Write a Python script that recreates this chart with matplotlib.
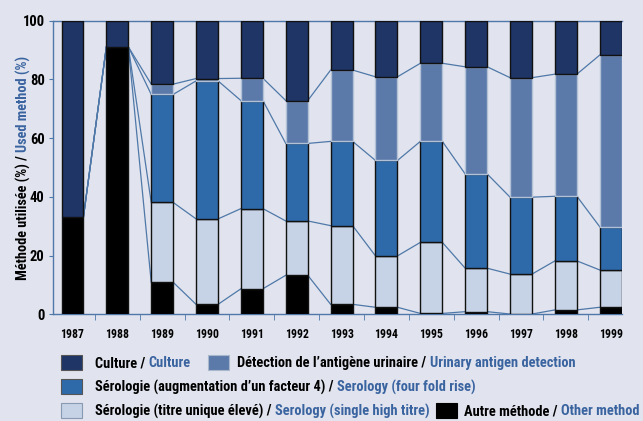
import numpy as np
import matplotlib
matplotlib.use('Agg')
import matplotlib.pyplot as plt
from matplotlib.patches import Rectangle

years = ['1987', '1988', '1989', '1990', '1991', '1992', '1993',
         '1994', '1995', '1996', '1997', '1998', '1999']
# stacked from bottom to top
other = [33.3, 91.1, 10.9, 3.4, 8.7, 13.3, 3.4, 2.4, 0.3, 0.9, 0.1, 1.5, 2.4]
single_titre = [0, 0, 27.2, 29.1, 27.3, 18.5, 26.8, 17.5, 24.2, 14.8, 13.6, 16.7, 12.7]
four_fold = [0, 0, 36.8, 47.0, 36.8, 26.4, 28.7, 32.5, 34.4, 32.1, 26.2, 22.0, 14.7]
antigen = [0, 0, 3.5, 0.8, 7.6, 14.6, 24.3, 28.5, 26.6, 36.5, 40.7, 41.6, 58.5]
culture = [66.7, 8.9, 21.6, 19.7, 19.6, 27.2, 16.8, 19.1, 14.5, 15.7, 19.4, 18.2, 11.7]

series = [other, single_titre, four_fold, antigen, culture]
colors = ['#000000', '#c6d2e5', '#2e69a9', '#5b7aaa', '#1f3566']
edges = ['#111111', '#111111', '#111111', '#b3c1d6', '#111111']

bg = '#e1e4ee'
steel = '#4f78a8'
blue_txt = '#3a64a0'

plt.rcParams['font.family'] = ['Roboto Condensed', 'DejaVu Sans']
plt.rcParams['font.weight'] = 600

fig = plt.figure(figsize=(6.43, 4.21), dpi=100, facecolor=bg)
ax = fig.add_axes([0.0824, 0.2534, 0.8849, 0.6974])
ax.set_facecolor(bg)

x = np.arange(len(years))
w = 0.49
bottom = np.zeros(len(years))
tops = []
for vals, c, ec in zip(series, colors, edges):
    vals = np.array(vals, dtype=float)
    ecs = [ec if v > 0 else 'none' for v in vals]
    ax.bar(x, vals, w, bottom=bottom, color=c, edgecolor=ecs, linewidth=1.0, zorder=3)
    bottom = bottom + vals
    tops.append(bottom.copy())

# connecting lines between consecutive bars
for t in tops[:-1]:
    for i in range(len(years) - 1):
        ax.plot([x[i] + w / 2, x[i + 1] - w / 2], [t[i], t[i + 1]],
                color=steel, lw=0.9, zorder=2)

ax.set_xlim(-0.435, 12.25)
ax.set_ylim(0, 100)
ax.set_yticks([0, 20, 40, 60, 80, 100])
ax.set_xticks(x)
ax.set_xticklabels(years, fontsize=8.5)
ax.set_xticks(x[:-1] + 0.5, minor=True)
ax.tick_params(axis='x', which='major', length=0, pad=10)
ax.tick_params(axis='x', which='minor', length=4, color=steel, direction='out')
ax.tick_params(axis='y', length=3, color=steel, labelsize=10.5, pad=3)
for s in ['left', 'bottom', 'top']:
    ax.spines[s].set_color(steel)
    ax.spines[s].set_linewidth(1.0)
ax.spines['right'].set_visible(False)

renderer = fig.canvas.get_renderer()
W, H = fig.get_size_inches() * fig.dpi


def text_width(s, size):
    t = fig.text(0, 0, s, fontsize=size)
    wd = t.get_window_extent(renderer=renderer).width
    t.remove()
    return wd


# fit legend text size to the reference width of the longest first-column row
leg_size = 10 * 334 / text_width('Sérologie (titre unique élevé) / Serology (single high titre)', 10)
lab_size = 10 * 225 / text_width('Méthode utilisée (%) / Used method (%)', 10)


def colored_row(xpos, ypos, parts, size):
    for txt, col in parts:
        t = fig.text(xpos, ypos, txt, color=col, fontsize=size, ha='left', va='center')
        xpos += t.get_window_extent(renderer=renderer).width / W
    return xpos


def colored_vertical(xpos, ypos, parts, size):
    for txt, col in parts:
        t = fig.text(xpos, ypos, txt, color=col, fontsize=size, rotation=90,
                     ha='center', va='bottom')
        ypos += t.get_window_extent(renderer=renderer).height / H


colored_vertical(23 / W, 1 - 280 / H,
                 [('Méthode utilisée (%) / ', 'black'), ('Used method (%)', blue_txt)], lab_size)


def swatch(px, py, c, ec):
    fig.patches.append(Rectangle((px / W, 1 - (py + 7.5) / H), 21 / W, 15 / H,
                                 transform=fig.transFigure, facecolor=c,
                                 edgecolor=ec, linewidth=0.8))


swatch(61, 362, colors[4], '#555555')
colored_row(95 / W, 1 - 363 / H, [('Culture / ', 'black'), ('Culture', blue_txt)], leg_size)
swatch(208, 362, colors[3], '#a9b7cc')
colored_row(237 / W, 1 - 363 / H, [("Détection de l’antigène urinaire / ", 'black'),
                                   ('Urinary antigen detection', blue_txt)], leg_size)
swatch(61, 386, colors[2], '#555555')
colored_row(95 / W, 1 - 387 / H, [("Sérologie (augmentation d’un facteur 4) / ", 'black'),
                                  ('Serology (four fold rise)', blue_txt)], leg_size)
swatch(61, 410, colors[1], '#8899b3')
colored_row(95 / W, 1 - 411 / H, [('Sérologie (titre unique élevé) / ', 'black'),
                                  ('Serology (single high titre)', blue_txt)], leg_size)
swatch(436, 410, colors[0], '#000000')
colored_row(464 / W, 1 - 411 / H, [('Autre méthode / ', 'black'), ('Other method', blue_txt)], leg_size)

fig.savefig('out.png', dpi=100, facecolor=bg)
